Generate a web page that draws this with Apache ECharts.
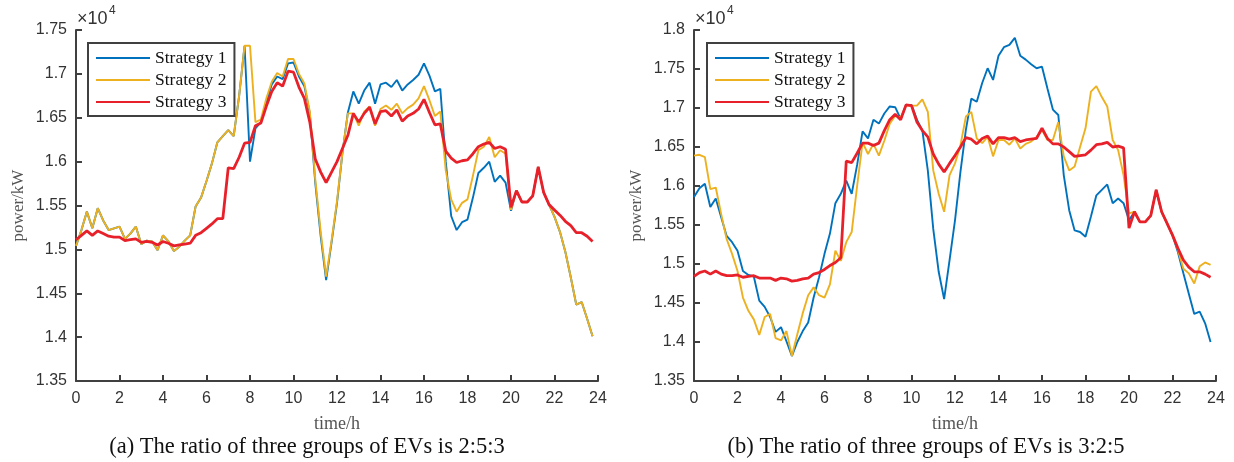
<!DOCTYPE html>
<html>
<head>
<meta charset="utf-8">
<script src="https://cdn.jsdelivr.net/npm/echarts@6/dist/echarts.min.js"></script>
<style>
html,body{margin:0;padding:0;background:#fff;}
#chart{width:1234px;height:462px;}
</style>
</head>
<body>
<div id="chart"></div>
<script>
// time grid: 96 points, every 15 minutes (hours)
var STEP_H = 0.25;
var seriesNames = ['Strategy 1', 'Strategy 2', 'Strategy 3'];
var xTicks = [0, 2, 4, 6, 8, 10, 12, 14, 16, 18, 20, 22, 24];
var captionA = '(a) The ratio of three groups of EVs is 2:5:3';
var captionB = '(b) The ratio of three groups of EVs is 3:2:5';

// Panel (a), values in 10^4 kW
var A_S1 = [1.504,1.522,1.543,1.524,1.547,1.533,1.522,1.524,1.526,1.512,1.518,1.526,1.506,1.510,1.509,1.499,
1.516,1.509,1.498,1.503,1.510,1.516,1.549,1.559,1.578,1.598,1.622,1.629,1.636,1.629,1.675,1.732,
1.600,1.638,1.645,1.668,1.688,1.697,1.694,1.712,1.713,1.697,1.686,1.655,1.576,1.515,1.465,1.508,
1.553,1.610,1.656,1.680,1.666,1.681,1.690,1.666,1.688,1.690,1.685,1.693,1.681,1.688,1.693,1.699,
1.712,1.698,1.680,1.683,1.600,1.538,1.522,1.531,1.534,1.559,1.587,1.593,1.600,1.577,1.584,1.576,
1.544,1.567,1.554,1.554,1.561,1.594,1.565,1.551,1.537,1.520,1.497,1.468,1.437,1.440,1.421,1.401];
var A_S2 = [1.504,1.522,1.543,1.524,1.547,1.533,1.522,1.524,1.526,1.512,1.518,1.526,1.506,1.510,1.509,1.499,
1.516,1.509,1.498,1.503,1.510,1.516,1.549,1.559,1.578,1.598,1.622,1.629,1.636,1.629,1.675,1.732,
1.732,1.645,1.648,1.672,1.691,1.701,1.697,1.717,1.717,1.700,1.689,1.657,1.580,1.520,1.469,1.510,
1.555,1.610,1.655,1.655,1.641,1.657,1.663,1.641,1.660,1.664,1.659,1.666,1.655,1.661,1.665,1.672,
1.686,1.670,1.652,1.657,1.590,1.557,1.543,1.553,1.557,1.584,1.613,1.617,1.628,1.605,1.613,1.609,
1.545,1.567,1.554,1.554,1.561,1.594,1.565,1.551,1.537,1.520,1.497,1.468,1.437,1.440,1.421,1.401];
var A_S3 = [1.511,1.516,1.521,1.516,1.521,1.518,1.515,1.514,1.514,1.510,1.511,1.512,1.508,1.509,1.508,1.505,
1.509,1.507,1.504,1.505,1.506,1.507,1.516,1.519,1.524,1.529,1.535,1.535,1.593,1.592,1.605,1.621,
1.622,1.641,1.644,1.663,1.680,1.690,1.686,1.703,1.702,1.685,1.672,1.645,1.603,1.588,1.576,1.588,
1.600,1.615,1.630,1.655,1.645,1.655,1.662,1.643,1.657,1.658,1.652,1.659,1.646,1.652,1.655,1.660,
1.671,1.656,1.642,1.643,1.612,1.604,1.599,1.601,1.602,1.609,1.617,1.620,1.622,1.615,1.617,1.614,
1.548,1.567,1.554,1.554,1.561,1.594,1.565,1.551,1.545,1.539,1.532,1.527,1.519,1.519,1.515,1.509];

// Panel (b), values in 10^4 kW
var B_S1 = [1.586,1.597,1.603,1.573,1.584,1.560,1.536,1.528,1.517,1.491,1.486,1.484,1.453,1.445,1.432,1.413,
1.419,1.401,1.382,1.400,1.414,1.425,1.457,1.483,1.513,1.539,1.578,1.590,1.607,1.590,1.627,1.670,
1.661,1.685,1.680,1.693,1.702,1.701,1.686,1.704,1.704,1.685,1.671,1.620,1.545,1.490,1.455,1.505,
1.556,1.618,1.672,1.712,1.708,1.732,1.751,1.736,1.767,1.778,1.781,1.790,1.767,1.762,1.756,1.751,
1.753,1.725,1.698,1.691,1.614,1.569,1.543,1.541,1.535,1.561,1.588,1.595,1.602,1.578,1.584,1.578,
1.556,1.567,1.554,1.554,1.562,1.595,1.567,1.552,1.537,1.515,1.488,1.462,1.436,1.439,1.424,1.400];
var B_S2 = [1.639,1.640,1.637,1.596,1.598,1.564,1.532,1.513,1.491,1.457,1.440,1.429,1.409,1.432,1.436,1.405,
1.402,1.414,1.382,1.410,1.437,1.460,1.470,1.460,1.457,1.474,1.517,1.504,1.528,1.541,1.600,1.656,
1.641,1.654,1.639,1.658,1.680,1.690,1.688,1.703,1.703,1.703,1.711,1.695,1.620,1.590,1.567,1.614,
1.629,1.652,1.689,1.695,1.661,1.655,1.663,1.638,1.659,1.659,1.653,1.661,1.648,1.654,1.657,1.663,
1.672,1.659,1.659,1.682,1.638,1.620,1.625,1.650,1.674,1.721,1.728,1.714,1.702,1.659,1.646,1.614,
1.565,1.567,1.554,1.554,1.562,1.595,1.567,1.552,1.537,1.518,1.494,1.488,1.475,1.497,1.502,1.499];
var B_S3 = [1.484,1.489,1.491,1.487,1.491,1.487,1.485,1.485,1.486,1.483,1.484,1.485,1.482,1.482,1.482,1.479,
1.482,1.481,1.478,1.479,1.481,1.482,1.487,1.489,1.493,1.498,1.502,1.508,1.632,1.630,1.642,1.655,
1.655,1.652,1.655,1.671,1.685,1.692,1.685,1.704,1.703,1.682,1.671,1.663,1.641,1.628,1.618,1.629,
1.639,1.650,1.662,1.660,1.654,1.661,1.664,1.654,1.662,1.662,1.660,1.662,1.657,1.659,1.660,1.661,
1.674,1.661,1.654,1.654,1.650,1.644,1.638,1.639,1.640,1.646,1.653,1.654,1.656,1.650,1.651,1.649,
1.546,1.567,1.554,1.554,1.562,1.595,1.567,1.552,1.537,1.520,1.505,1.496,1.490,1.490,1.487,1.483];

var COLORS = ['#0072BD', '#EDB120', '#E8202A'];
var WIDTHS = [1.9, 1.9, 2.8];

function pairs(vals) {
  return vals.map(function (v, i) { return [i * STEP_H, v]; });
}
function fmt(v) { return String(parseFloat(v.toFixed(2))); }

var axisColor = '#404040';
var tickFont = 'Liberation Sans, Arial, sans-serif';
var serif = 'Liberation Serif, Times New Roman, serif';

function xAxisCfg(gi) {
  return {
    gridIndex: gi, type: 'value', min: 0, max: 24, interval: 2,
    name: 'time/h', nameLocation: 'middle', nameGap: 34,
    nameTextStyle: { fontFamily: serif, fontSize: 18, color: '#555' },
    axisLine: { show: true, lineStyle: { color: axisColor, width: 2 } },
    axisTick: { show: true, inside: true, length: 6, lineStyle: { color: axisColor, width: 2 } },
    axisLabel: { color: '#333', fontSize: 16, fontFamily: tickFont, margin: 10,
      formatter: function (v) { return xTicks.indexOf(v) >= 0 ? String(v) : ''; } },
    splitLine: { show: false }
  };
}
function yAxisCfg(gi, max) {
  return {
    gridIndex: gi, type: 'value', min: 1.35, max: max, interval: 0.05,
    name: 'power/kW', nameLocation: 'middle', nameGap: 49, nameRotate: 90,
    nameTextStyle: { fontFamily: serif, fontSize: 17, color: '#555' },
    axisLine: { show: true, lineStyle: { color: axisColor, width: 2 } },
    axisTick: { show: true, inside: true, length: 6, lineStyle: { color: axisColor, width: 2 } },
    axisLabel: { color: '#333', fontSize: 16, fontFamily: tickFont, margin: 9, formatter: fmt },
    splitLine: { show: false }
  };
}
function legendCfg(left) {
  return {
    left: left, top: 43, orient: 'vertical', data: seriesNames,
    backgroundColor: '#fff', borderColor: axisColor, borderWidth: 2,
    padding: [6, 8, 5, 7], itemWidth: 54, itemHeight: 14, itemGap: 4,
    itemStyle: { opacity: 0 },
    textStyle: { fontFamily: serif, fontSize: 17.5, color: '#111' }
  };
}

var panels = [[A_S1, A_S2, A_S3], [B_S1, B_S2, B_S3]];
var series = [];
panels.forEach(function (p, gi) {
  p.forEach(function (vals, k) {
    series.push({
      name: seriesNames[k], type: 'line', xAxisIndex: gi, yAxisIndex: gi,
      data: pairs(vals), symbol: 'none', showSymbol: false, smooth: false,
      color: COLORS[k], lineStyle: { color: COLORS[k], width: WIDTHS[k] },
      z: 2 + k
    });
  });
});

function multiplier(x) {
  return [
    { type: 'text', left: x + 1, top: 10, style: { text: '\u00d710', font: '18px ' + tickFont, fill: '#333' } },
    { type: 'text', left: x + 33, top: 5, style: { text: '4', font: '12px ' + tickFont, fill: '#333' } }
  ];
}

var chart = echarts.init(document.getElementById('chart'), null, { renderer: 'canvas' });
chart.setOption({
  animation: false,
  backgroundColor: '#fff',
  grid: [
    { left: 76, top: 30, width: 522, height: 351 },
    { left: 694, top: 30, width: 522, height: 351 }
  ],
  xAxis: [xAxisCfg(0), xAxisCfg(1)],
  yAxis: [yAxisCfg(0, 1.75), yAxisCfg(1, 1.8)],
  legend: [legendCfg(88), legendCfg(707)],
  series: series,
  graphic: multiplier(76).concat(multiplier(694)).concat([
    { type: 'text', x: 307, y: 447, style: { text: captionA, font: '22.5px ' + serif, fill: '#111', align: 'center', verticalAlign: 'middle' } },
    { type: 'text', x: 926, y: 447, style: { text: captionB, font: '22.5px ' + serif, fill: '#111', align: 'center', verticalAlign: 'middle' } }
  ])
});
</script>
</body>
</html>
